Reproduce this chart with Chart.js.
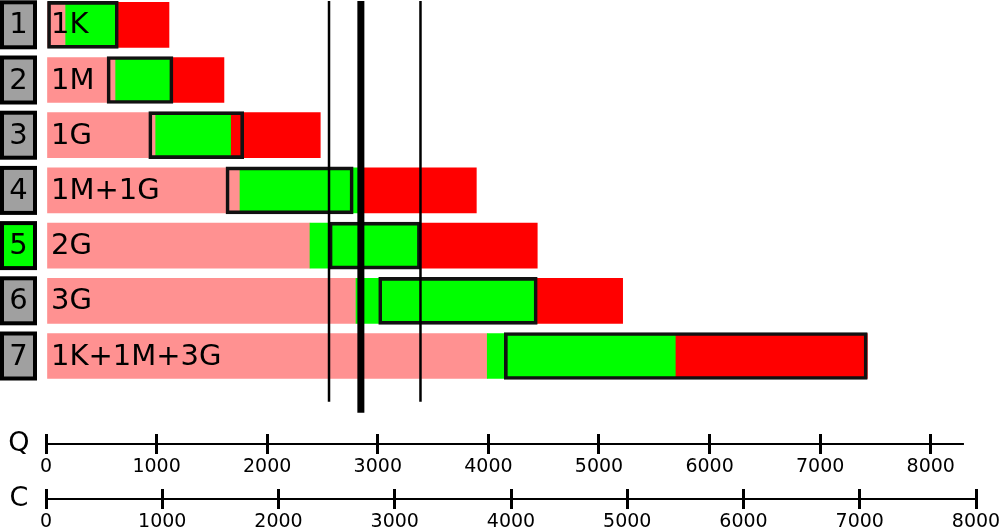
<!DOCTYPE html>
<html>
<head>
<meta charset="utf-8">
<script src="https://cdn.jsdelivr.net/npm/chart.js@4/dist/chart.umd.min.js"></script>
<style>
  html, body { margin: 0; padding: 0; background: #fff; }
  #wrap { width: 1000px; height: 530px; }
</style>
</head>
<body>
<div id="wrap"><canvas id="chart" width="1000" height="530"></canvas></div>
<script>
// Row data (values in Q units).
const rowNums   = ['1', '2', '3', '4', '5', '6', '7'];
const rowNames  = ['1K', '1M', '1G', '1M+1G', '2G', '3G', '1K+1M+3G'];
const pinkEnd   = [178, 630, 992, 1754, 2387, 2803, 3990];
const greenEnd  = [639, 1146, 1675, 2847, 3384, 4442, 5696];
const redEnd    = [1112, 1609, 2480, 3891, 4442, 5214, 7426];
const boxStart  = [0, 552, 929, 1627, 2559, 3008, 4144];
const boxEnd    = [654, 1148, 1788, 2778, 3386, 4442, 7426];
const highlightRow = 4;              // row "5" has the green number box

// Vertical markers
const vLines      = [2559, 2847, 3386];
const vLineWidths = [2.5, 7, 2.5];
const vLineBottom = [6.83, 7.03, 6.83];   // in row units

// Bottom axes
const qTicks = [0, 1000, 2000, 3000, 4000, 5000, 6000, 7000, 8000];
const cTicks = [0, 1000, 2000, 3000, 4000, 5000, 6000, 7000, 8000];
const qLineEnd = 8300;   // Q axis line stops a bit past 8000
const qMax = 8409;
const cMax = 8000;

const PINK = '#ff9191', GREEN = '#00ff00', RED = '#ff0000';
const FONT = "'DejaVu Sans', Verdana, sans-serif";
Chart.defaults.font.family = FONT;
Chart.defaults.color = '#000';

const seg = (from, to) => rowNames.map((_, i) => ({ y: i, x: [from[i], to[i]] }));

// ─── Plugins ─────────────────────────────────────────────────────────────

const decor = {
  id: 'decor',
  afterDatasetsDraw(chart) {
    const { ctx, chartArea, scales } = chart;
    const x = scales.x, y = scales.y;
    ctx.save();

    // bar names
    ctx.fillStyle = '#000';
    ctx.font = `29px ${FONT}`;
    ctx.textAlign = 'left';
    ctx.textBaseline = 'middle';
    rowNames.forEach((t, i) => ctx.fillText(t, x.getPixelForValue(0) + 5, y.getPixelForValue(i) + 1));

    // vertical lines
    ctx.strokeStyle = '#000';
    vLines.forEach((v, i) => {
      const px = x.getPixelForValue(v);
      ctx.lineWidth = vLineWidths[i];
      ctx.beginPath();
      ctx.moveTo(px, chartArea.top + 1);
      ctx.lineTo(px, y.getPixelForValue(vLineBottom[i]));
      ctx.stroke();
    });

    // number boxes on the left
    ctx.font = `29px ${FONT}`;
    ctx.textAlign = 'center';
    rowNums.forEach((t, i) => {
      const c = y.getPixelForValue(i);
      ctx.fillStyle = '#000';
      ctx.fillRect(0, c - 24.5, 37, 49);
      ctx.fillStyle = i === highlightRow ? GREEN : '#a0a0a0';
      ctx.fillRect(4, c - 20.5, 29, 41);
      ctx.fillStyle = '#000';
      ctx.fillText(t, 18.5, c + 1);
    });
    ctx.restore();
  },
  afterDraw(chart) {
    const { ctx, scales } = chart;
    ctx.save();
    ctx.strokeStyle = '#000';
    ctx.lineWidth = 2;
    [[scales.x, qLineEnd, 'Q'], [scales.c, cMax, 'C']].forEach(([s, end, name]) => {
      const ly = s.top + 10;
      ctx.beginPath();
      ctx.moveTo(s.getPixelForValue(0), ly);
      ctx.lineTo(s.getPixelForValue(end), ly);
      ctx.stroke();
      ctx.fillStyle = '#000';
      ctx.font = `27px ${FONT}`;
      ctx.textAlign = 'center';
      ctx.textBaseline = 'middle';
      ctx.fillText(name, 19, ly);
    });
    ctx.restore();
  }
};

// ─── Chart ───────────────────────────────────────────────────────────────

const axisGrid = { display: true, drawOnChartArea: false, drawTicks: true, tickLength: 20, lineWidth: 3, color: '#000' };
const axisTicks = { font: { size: 19 }, color: '#000', padding: 2, maxRotation: 0, autoSkip: false, callback: v => String(v) };
// let the end labels hang over the edge instead of shrinking the plot
const fitAxis = h => s => { s.height = h; s.paddingLeft = 0; s.paddingRight = 0; };

new Chart(document.getElementById('chart'), {
  type: 'bar',
  data: {
    datasets: [
      { label: 'box', data: seg(boxStart, boxEnd), backgroundColor: 'rgba(0,0,0,0)', borderColor: '#111', borderWidth: 3, borderSkipped: false, barThickness: 47, order: 0 },
      { label: 'red', data: seg(greenEnd, redEnd), backgroundColor: RED, barThickness: 45, order: 1 },
      { label: 'green', data: seg(pinkEnd, greenEnd), backgroundColor: GREEN, barThickness: 45, order: 2 },
      { label: 'pink', data: rowNames.map((_, i) => ({ y: i, x: [0, pinkEnd[i]] })), backgroundColor: PINK, barThickness: 45, order: 3 },
    ],
  },
  options: {
    responsive: false,
    animation: false,
    indexAxis: 'y',
    grouped: false,
    layout: { padding: { left: 46, right: 24, top: 0, bottom: 0 } },
    scales: {
      y: { type: 'linear', display: false, offset: false, reverse: true, min: -0.4493, max: 7.413 },
      x: {
        type: 'linear', position: 'bottom', min: 0, max: qMax, weight: 0,
        ticks: axisTicks,
        afterBuildTicks: s => { s.ticks = qTicks.map(v => ({ value: v })); },
        grid: axisGrid, border: { display: false },
        afterFit: fitAxis(55),
      },
      c: {
        type: 'linear', position: 'bottom', min: 0, max: cMax, weight: 1,
        ticks: axisTicks,
        afterBuildTicks: s => { s.ticks = cTicks.map(v => ({ value: v })); },
        grid: axisGrid, border: { display: false },
        afterFit: fitAxis(41),
      },
    },
    plugins: { legend: { display: false }, tooltip: { enabled: false } },
  },
  plugins: [decor],
});
</script>
</body>
</html>
